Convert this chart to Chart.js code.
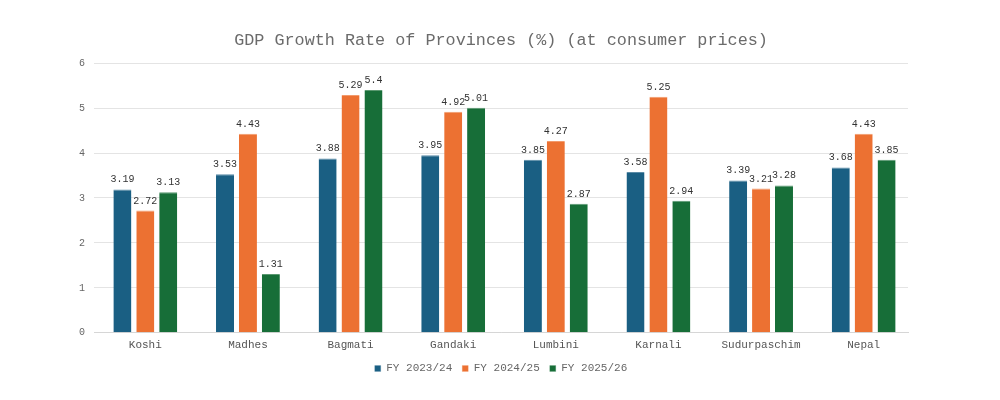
<!DOCTYPE html>
<html>
<head>
<meta charset="utf-8">
<script src="https://cdn.jsdelivr.net/npm/chart.js@4.4.1/dist/chart.umd.min.js"></script>
<style>
  html, body { margin: 0; padding: 0; background: #ffffff; }
  #wrap { width: 1000px; height: 400px; }
</style>
</head>
<body>
<div id="wrap"><canvas id="c" width="1000" height="400"></canvas></div>
<script>
const categories = ["Koshi", "Madhes", "Bagmati", "Gandaki", "Lumbini", "Karnali", "Sudurpaschim", "Nepal"];
const seriesNames = ["FY 2023/24", "FY 2024/25", "FY 2025/26"];
const fy2324 = [3.19, 3.53, 3.88, 3.95, 3.85, 3.58, 3.39, 3.68];
const fy2425 = [2.72, 4.43, 5.29, 4.92, 4.27, 5.25, 3.21, 4.43];
const fy2526 = [3.13, 1.31, 5.4, 5.01, 2.87, 2.94, 3.28, 3.85];
const yTicks = [0, 1, 2, 3, 4, 5, 6];

const FONT = "'Liberation Mono', 'Courier New', monospace";
const colors = ["#1a5f83", "#ec7132", "#176e38"];
const edges = ["#5a8ba6", "#f29a6c", "#5a9870"];

const valueLabels = {
  id: 'valueLabels',
  afterDatasetsDraw(chart) {
    const ctx = chart.ctx;
    ctx.save();
    ctx.font = "10px " + FONT;
    ctx.fillStyle = "#333333";
    ctx.textAlign = "center";
    ctx.textBaseline = "alphabetic";
    chart.data.datasets.forEach((ds, i) => {
      const meta = chart.getDatasetMeta(i);
      meta.data.forEach((el, j) => {
        ctx.fillText(String(ds.data[j]), el.x, el.y - 7);
      });
    });
    ctx.restore();
  }
};

const rightInset = {
  id: 'rightInset',
  afterLayout(chart) {
    const x = chart.scales.x;
    x._endPixel = x.right + 7;
    x._length = x._endPixel - x._startPixel;
  }
};

const allData = [fy2324, fy2425, fy2526];
new Chart(document.getElementById('c'), {
  type: 'bar',
  data: {
    labels: categories,
    datasets: seriesNames.map((n, i) => ({
      label: n,
      data: allData[i],
      backgroundColor: colors[i],
      borderColor: edges[i],
      borderWidth: {top: 1, left: 0, right: 0, bottom: 0},
      borderSkipped: 'bottom',
      categoryPercentage: 0.67,
      barPercentage: 0.786
    }))
  },
  options: {
    responsive: false,
    animation: false,
    devicePixelRatio: 1,
    layout: { padding: { left: 70, right: 92, top: 20, bottom: 16 } },
    plugins: {
      title: {
        display: true,
        fullSize: false,
        text: "GDP Growth Rate of Provinces (%) (at consumer prices)",
        color: "#6b6b6b",
        font: { family: FONT, size: 16.8, weight: 'normal' },
        padding: { top: 10, bottom: 13 }
      },
      legend: {
        position: 'bottom',
        fullSize: false,
        labels: {
          boxWidth: 6,
          boxHeight: 6,
          color: "#666666",
          padding: 10,
          font: { family: FONT, size: 11 }
        }
      },
      tooltip: { enabled: false }
    },
    scales: {
      x: {
        grid: { display: false, drawTicks: false },
        border: { display: true, color: "#d6d6d6", width: 1 },
        ticks: { color: "#555555", font: { family: FONT, size: 11 }, padding: 6 },
        afterFit(scale) { scale.height -= 5; }
      },
      y: {
        min: 0,
        max: 6,
        afterBuildTicks(scale) { scale.ticks = yTicks.map(v => ({ value: v })); },
        grid: { color: "#e4e4e4", drawTicks: false },
        border: { display: false },
        ticks: { color: "#666666", font: { family: FONT, size: 10 }, padding: 9, stepSize: 1 }
      }
    }
  },
  plugins: [valueLabels, rightInset]
});
</script>
</body>
</html>
